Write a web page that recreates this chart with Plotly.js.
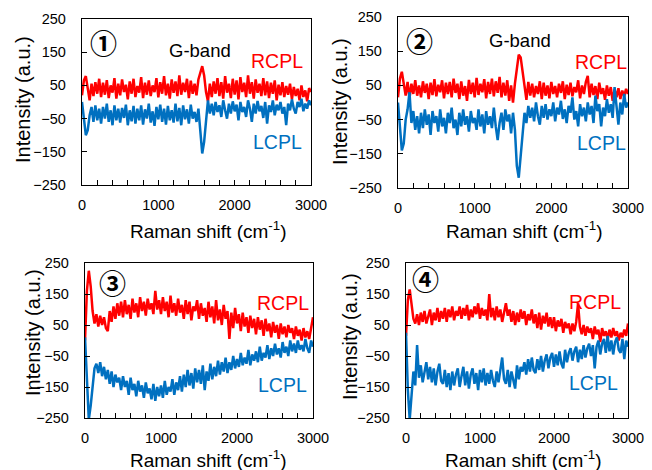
<!DOCTYPE html>
<html>
<head>
<meta charset="utf-8">
<script src="https://cdn.plot.ly/plotly-3.0.1.min.js"></script>
<style>html,body{margin:0;padding:0;background:#fff;}#chart{width:652px;height:470px;}</style>
</head>
<body>
<div id="chart"></div>
<script>
// Raman shift (cm-1), shared by all panels
const ramanShift = [0,25,50,75,100,125,150,175,200,225,250,275,300,325,350,375,400,425,450,475,500,525,550,575,600,625,650,675,700,725,750,775,800,825,850,875,900,925,950,975,1000,1025,1050,1075,1100,1125,1150,1175,1200,1225,1250,1275,1300,1325,1350,1375,1400,1425,1450,1475,1500,1525,1550,1575,1600,1625,1650,1675,1700,1725,1750,1775,1800,1825,1850,1875,1900,1925,1950,1975,2000,2025,2050,2075,2100,2125,2150,2175,2200,2225,2250,2275,2300,2325,2350,2375,2400,2425,2450,2475,2500,2525,2550,2575,2600,2625,2650,2675,2700,2725,2750,2775,2800,2825,2850,2875,2900,2925,2950,2975,3000];

// Panel 1
const rcpl1 = [20,65,78,40,5,55,18,60,25,70, 15,58,22,66,12,50,28,72,10,55, 20,68,30,52,8,62,25,70,15,48, 28,75,12,58,22,65,18,50,30,72, 14,60,25,78,20,55,10,68,28,62, 18,80,22,58,30,70,12,64,25,55, 20,68,85,108,80,30,2,55,15,62, 25,72,18,60,10,78,28,55,12,70, 22,65,8,75,30,58,15,80,25,60, 10,68,28,55,18,72,20,62,12,58, 25,65,5,52,20,60,15,48,22,55, 8,45,18,40,5,50,15,35,2,42, 30];
const lcpl1 = [0,-50,-100,-85,-40,-15,-60,-10,-55,-20, -65,-15,-50,-5,-60,-25,-70,-10,-55,-20, -62,-18,-48,-8,-70,-25,-58,-12,-65,-20, -55,-10,-68,-22,-50,-5,-62,-28,-72,-15, -52,-8,-60,-20,-68,-12,-55,-25,-62,-5, -58,-18,-70,-10,-52,-22,-65,-8,-50,-30, -60,-20,-100,-155,-120,-50,5,-35,-5,-40, 0,-30,-10,-45,5,-25,-50,-5,-35,2, -28,-8,-55,0,-30,-15,-45,5,-20,-60, -5,-35,3,-28,-12,-48,0,-65,-10,-30, 5,-40,-8,-25,0,-35,-15,-70,-5,-25, 8,-20,-35,0,-15,10,-28,-5,-20,5, -10];

// Panel 2
const rcpl2 = [15,70,90,55,20,60,12,55,25,65, 20,50,15,62,28,55,10,58,22,68, 18,52,30,65,12,58,25,60,15,70, 28,55,10,62,20,48,5,66,25,58, 15,72,22,55,30,68,12,60,25,70, 18,62,28,75,15,58,20,65,5,50, 0,55,100,140,132,90,35,8,60,20, 55,15,48,25,62,10,58,20,50,12, 60,25,48,15,55,28,62,10,52,22, 58,18,45,30,65,12,50,25,60,78, 15,55,22,48,10,58,25,42,8,50, 20,45,5,38,15,42,10,35,18,40, 25];
const lcpl2 = [0,-80,-140,-120,-50,-20,30,-60,-25,-80, -40,-90,-30,-75,-20,-65,-35,-95,-25,-60, -40,-85,-20,-70,-45,-90,-30,-60,-15,-75, -50,-95,-30,-70,-20,-65,-40,-85,-25,-60, -45,-80,-20,-70,-35,-90,-25,-65,-40,-75, -15,-70,-110,-60,-30,-80,-20,-55,-35,-90, -30,-80,-185,-220,-160,-90,-30,-60,-10,-45, -15,-55,0,-40,-65,-10,-45,-5,-50,-20, -40,0,-55,-15,-35,5,-48,-20,-60,-10, -30,15,-50,-25,-70,-5,-40,-15,-55,0, -35,-10,-60,20,-25,-5,-70,-15,-40,10, -30,-5,-45,45,-20,-65,0,-35,25,-15, 0];

// Panel 3
const rcpl3 = [0,160,225,175,95,55,85,45,80,50, 75,40,30,95,60,110,70,120,80,125, 75,130,85,115,70,135,90,120,75,140, 95,125,80,135,100,120,85,160,100,130, 85,140,95,125,75,145,90,120,80,135, 90,115,70,130,85,125,65,110,95,130, 70,120,80,105,60,125,75,110,55,130, 65,100,50,115,70,95,5,90,40,105, 55,85,30,90,45,75,25,80,40,70, 20,75,35,65,15,70,30,55,10,60, 25,50,5,55,20,45,10,50,25,40, 5,45,15,35,0,40,10,30,5,35, 75];
const lcpl3 = [10,-130,-255,-210,-140,-90,-75,-105,-70,-115, -85,-125,-95,-140,-100,-150,-110,-135,-120,-160, -115,-150,-130,-175,-120,-160,-140,-180,-130,-165, -145,-185,-135,-170,-155,-190,-140,-195,-150,-180, -145,-185,-130,-175,-150,-165,-125,-175,-135,-160, -115,-165,-110,-150,-95,-145,-105,-155,-90,-135, -95,-140,-80,-160,-100,-130,-75,-125,-85,-115, -65,-110,-70,-100,-55,-105,-70,-95,-50,-90, -60,-85,-40,-80,-55,-75,-30,-80,-45,-65, -35,-70,-20,-65,-40,-55,-15,-60,-25,-50, -10,-45,-25,-55,-5,-40,-20,-50,0,-35, -10,-40,0,-30,-15,-35,5,-25,-40,0, -20];

// Panel 4
const rcpl4 = [15,130,165,120,70,55,85,50,90,60, 95,55,80,100,50,90,65,105,60,95, 70,105,60,100,75,110,65,95,80,110, 70,105,80,115,65,100,75,110,85,120, 70,105,80,100,65,150,75,105,65,110, 75,100,60,95,120,80,100,60,95,50, 90,60,100,70,95,50,85,65,100,55, 85,40,90,35,80,55,90,45,75,40, 75,30,65,45,70,25,60,40,55,20, 55,30,60,120,45,20,50,15,45,25, 40,5,45,20,35,-5,40,15,30,5, 35,10,40,15,30,0,25,10,35,15, 55];
const lcpl4 = [25,-160,-255,-170,-100,-145,-15,-120,-80,-135, -95,-70,-125,-85,-135,-90,-145,-100,-75,-130, -140,-95,-150,-105,-160,-100,-145,-110,-90,-150, -115,-85,-145,-100,-155,-110,-90,-140,-105,-160, -95,-135,-90,-145,-105,-140,-95,-130,-150,-100, -135,-90,-55,-125,-140,-95,-150,-100,-130,-155, -80,-125,-85,-100,-70,-110,-60,-100,-55,-95, -105,-60,-95,-50,-100,-65,-45,-90,-55,-40, -85,-45,-80,-35,-75,-90,-30,-70,-40,-25, -65,-35,-20,-70,-30,-60,-15,-55,-25,-10, -50,-15,-90,-20,0,-45,-10,5,-40,15, -35,0,-45,-5,10,-30,-40,5,-60,0, -20];

const yTickVals = [250,150,50,-50,-150,-250];
const yTickText = ["250","150","50","\u221250","\u2212150","\u2212250"];
const xTickVals = [0,1000,2000,3000];
const panelLabels = ["\u2460","\u2461","\u2462","\u2463"];
const seriesNames = ["RCPL","LCPL"];
const xTitle = "Raman shift (cm<sup>-1</sup>)";
const yTitle = "Intensity (a.u.)";

const RED = "#FF0000", BLUE = "#0070C0";
const W = 652, H = 470;
const px = v => v / W, py = v => 1 - v / H;

// panel frames in pixels: [left, right, top, bottom]
const frames = [[82,311,19,185],[398,628,17,188],[85,313,263,418],[406,628,263,418]];
const rData = [rcpl1, rcpl2, rcpl3, rcpl4];
const lData = [lcpl1, lcpl2, lcpl3, lcpl4];

const FONT = "Liberation Sans, Arial, sans-serif";
const traces = [];
const layout = {
  width: W, height: H, margin: {l:0,r:0,t:0,b:0},
  paper_bgcolor: "#fff", plot_bgcolor: "#fff",
  showlegend: false, font: {family: FONT, color: "#000", size: 14},
  annotations: []
};

// label positions [x,y] pixel centres
const xTitlePos = [[208,230],[524,230],[208,459],[523,459]];
const yTitlePos = [[23,100],[340,102],[33,333],[350,337]];
const numPos = [[103,43],[420,40],[112,282],[425,278]];
const gbandPos = [[200,50],[520,40],null,null];
const rPos = [[277,61],[601,62],[283,303],[595,302]];
const lPos = [[277,142],[601,143],[282,385],[593,383]];

frames.forEach((f, i) => {
  const n = i + 1;
  const xa = "x" + (n === 1 ? "" : n), ya = "y" + (n === 1 ? "" : n);
  traces.push({x: ramanShift, y: rData[i], type: "scatter", mode: "lines", name: seriesNames[0],
    line: {color: RED, width: 2.5}, xaxis: xa, yaxis: ya});
  traces.push({x: ramanShift, y: lData[i], type: "scatter", mode: "lines", name: seriesNames[1],
    line: {color: BLUE, width: 2.5}, xaxis: xa, yaxis: ya});
  const xk = "xaxis" + (n === 1 ? "" : n), yk = "yaxis" + (n === 1 ? "" : n);
  layout[xk] = {
    domain: [px(f[0]), px(f[1])], anchor: ya, range: [0, 3000],
    showgrid: false, zeroline: false, showline: true, linecolor: "#000", linewidth: 1.2, mirror: true,
    tickvals: xTickVals, ticks: "inside", ticklen: 5, tickcolor: "#000",
    minor: {dtick: 200, tick0: 0, ticks: "inside", ticklen: 5, tickcolor: "#000", showgrid: false},
    tickfont: {family: FONT, size: 14.5, color: "#000"}, ticklabelstandoff: 6, fixedrange: true
  };
  layout[yk] = {
    domain: [py(f[3]), py(f[2])], anchor: xa, range: [-250, 250],
    showgrid: false, zeroline: false, showline: true, linecolor: "#000", linewidth: 1.2, mirror: true,
    tickvals: yTickVals, ticktext: yTickText, ticks: "inside", ticklen: 5, tickcolor: "#000",
    tickfont: {family: FONT, size: 14.5, color: "#000"}, ticklabelstandoff: 12, fixedrange: true
  };
  const A = layout.annotations;
  A.push({xref:"paper", yref:"paper", x: px(xTitlePos[i][0]), y: py(xTitlePos[i][1]), text: xTitle,
    showarrow:false, xanchor:"center", yanchor:"middle", font:{family:FONT, size:19, color:"#000"}});
  A.push({xref:"paper", yref:"paper", x: px(yTitlePos[i][0]), y: py(yTitlePos[i][1]), text: yTitle, textangle:-90,
    showarrow:false, xanchor:"center", yanchor:"middle", font:{family:FONT, size:20, color:"#000"}});
  A.push({xref:"paper", yref:"paper", x: px(numPos[i][0]), y: py(numPos[i][1]), text: panelLabels[i],
    showarrow:false, xanchor:"center", yanchor:"middle", font:{family:"Noto Sans CJK JP", size:27, weight:"bold", color:"#000"}});
  if (gbandPos[i]) A.push({xref:"paper", yref:"paper", x: px(gbandPos[i][0]), y: py(gbandPos[i][1]), text: "G-band",
    showarrow:false, xanchor:"center", yanchor:"middle", font:{family:FONT, size:18.5, color:"#000"}});
  A.push({xref:"paper", yref:"paper", x: px(rPos[i][0]), y: py(rPos[i][1]), text: seriesNames[0],
    showarrow:false, xanchor:"center", yanchor:"middle", font:{family:FONT, size:19.5, color:RED}});
  A.push({xref:"paper", yref:"paper", x: px(lPos[i][0]), y: py(lPos[i][1]), text: seriesNames[1],
    showarrow:false, xanchor:"center", yanchor:"middle", font:{family:FONT, size:19.5, color:BLUE}});
});

Plotly.newPlot("chart", traces, layout, {staticPlot: true, displayModeBar: false});
</script>
</body>
</html>
